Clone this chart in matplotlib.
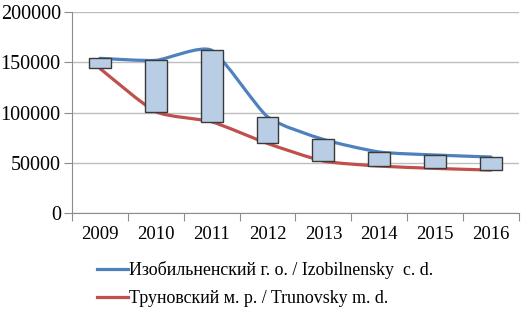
import numpy as np
import matplotlib
matplotlib.use('Agg')
import matplotlib.pyplot as plt
from matplotlib.path import Path
from matplotlib.patches import PathPatch
from matplotlib.lines import Line2D

years = ['2009', '2010', '2011', '2012', '2013', '2014', '2015', '2016']
izobilnensky = [154000, 152000, 162000, 96000, 73500, 61000, 58000, 56000]
trunovsky = [144000, 101000, 91000, 69500, 52000, 47000, 44700, 43000]
y_ticks = [0, 50000, 100000, 150000, 200000]

label_izo = 'Изобильненский г. о. / Izobilnensky  c. d.'
label_tru = 'Труновский м. р. / Trunovsky m. d.'

BLUE = '#4F81BD'
RED = '#C0504D'
BOX = '#B9CDE5'

plt.rcParams['font.family'] = ['Liberation Serif', 'DejaVu Serif']


def smooth_path(x, y, k=10.0):
    """Gently smoothed line as cubic Bezier segments through the points."""
    pts = np.column_stack([x, y]).astype(float)
    ext = np.vstack([pts[0], pts, pts[-1]])
    verts = [pts[0]]
    codes = [Path.MOVETO]
    for i in range(len(pts) - 1):
        p0, p1, p2, p3 = ext[i], ext[i + 1], ext[i + 2], ext[i + 3]
        verts += [p1 + (p2 - p0) / k, p2 - (p3 - p1) / k, p2]
        codes += [Path.CURVE4] * 3
    return Path(verts, codes)


fig = plt.figure(figsize=(5.29, 3.12), dpi=100)
ax = fig.add_axes([0.136, 0.316, 0.845, 0.6455])

x = np.arange(len(years))
for vals, color in [(izobilnensky, BLUE), (trunovsky, RED)]:
    ax.add_patch(PathPatch(smooth_path(x, vals), fill=False, edgecolor=color,
                           lw=2.3, capstyle='round', zorder=3))

lo = np.minimum(izobilnensky, trunovsky)
hi = np.maximum(izobilnensky, trunovsky)
ax.bar(x, hi - lo, bottom=lo, width=0.39, color=BOX, edgecolor='#3a3a3a',
       linewidth=1.0, zorder=4)

ax.set_xlim(-0.5, len(years) - 0.5)
ax.set_ylim(0, 200000)
ax.set_yticks(y_ticks)
ax.set_yticklabels([str(v) for v in y_ticks], fontsize=14.5)
ax.yaxis.grid(True, color='#bdbdbd', lw=1)
ax.set_axisbelow(True)

ax.set_xticks(np.arange(-0.5, len(years), 1))
ax.set_xticklabels([])
ax.set_xticks(x, minor=True)
ax.set_xticklabels(years, minor=True, fontsize=13.5)
ax.tick_params(axis='x', which='major', length=6, color='#8c8c8c', direction='out')
ax.tick_params(axis='x', which='minor', length=0, pad=9)
ax.tick_params(axis='y', length=6, color='#8c8c8c', pad=2)

for side in ['top', 'right']:
    ax.spines[side].set_visible(False)
for side in ['left', 'bottom']:
    ax.spines[side].set_color('#8c8c8c')

handles = [Line2D([], [], color=BLUE, lw=2.3), Line2D([], [], color=RED, lw=2.3)]
fig.legend(handles, [label_izo, label_tru], loc='upper left',
           bbox_to_anchor=(0.183, 0.162), frameon=False, fontsize=12.9,
           handlelength=1.75, handletextpad=0.05, labelspacing=0.6,
           borderaxespad=0, borderpad=0)

fig.savefig('out.png', dpi=100)
